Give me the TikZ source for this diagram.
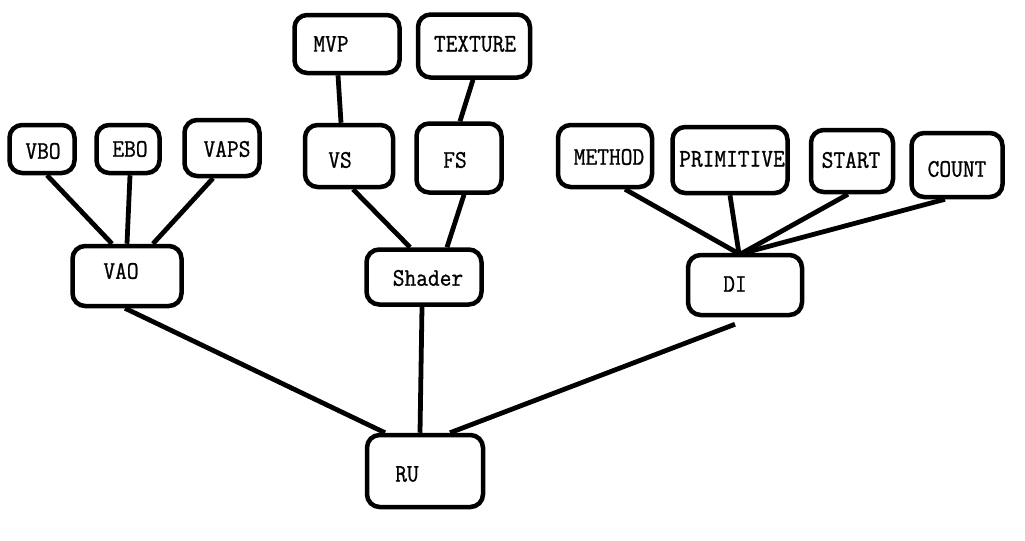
\documentclass[tikz,border=0pt]{standalone}
\usepackage{fontspec}
\setmonofont[FakeBold=0.9,FakeStretch=0.9]{Latin Modern Mono}
\usetikzlibrary{calc}
\tikzset{
  bx/.style 2 args={draw, line width=3.2pt, rounded corners=9pt, fill=white,
    minimum width=#1*0.025cm, minimum height=#2*0.025cm, inner sep=0pt},
  lbl/.style={font=\ttfamily\fontsize{18}{18}\selectfont, inner sep=0pt},
  ln/.style={line width=3.4pt}
}
\begin{document}
\begin{tikzpicture}[x=0.025cm, y=-0.025cm]
\useasboundingbox[fill=white] (0,0) rectangle (1025,540);
% boxes
\node[bx={65}{48}] (vbo) at (42,149) {};
\node[bx={63}{48}] (ebo) at (128,149) {};
\node[bx={75}{56}] (vaps) at (222,148) {};
\node[bx={109}{60}] (vao) at (127,276) {};
\node[bx={105}{58}] (mvp) at (347,44) {};
\node[bx={112}{63}] (tex) at (474,46) {};
\node[bx={88}{62}] (vs) at (349,156) {};
\node[bx={85}{69}] (fs) at (459,158) {};
\node[bx={115}{55}] (sh) at (424,277) {};
\node[bx={94}{62}] (meth) at (605,156) {};
\node[bx={115}{66}] (prim) at (730,160) {};
\node[bx={82}{62}] (start) at (852,161) {};
\node[bx={91}{64}] (count) at (957,165) {};
\node[bx={114}{60}] (di) at (745,285) {};
\node[bx={116}{72}] (ru) at (425,471) {};
% connectors
\draw[ln] ($(vbo.south)+(5,0)$) -- ($(vao.north)+(-15,0)$);
\draw[ln] ($(ebo.south)+(2,0)$) -- ($(vao.north)+(0,0)$);
\draw[ln] ($(vaps.south)+(-9,0)$) -- ($(vao.north)+(26,0)$);
\draw[ln] ($(vao.south)+(-2,0)$) -- ($(ru.north)+(-40,0)$);
\draw[ln] ($(mvp.south)+(-9,0)$) -- ($(vs.north)+(-8,0)$);
\draw[ln] ($(tex.south)+(-1,0)$) -- ($(fs.north)+(1,0)$);
\draw[ln] ($(vs.south)+(4,0)$) -- ($(sh.north)+(-14,0)$);
\draw[ln] ($(fs.south)+(5,0)$) -- ($(sh.north)+(23,0)$);
\draw[ln] ($(sh.south)+(-2,0)$) -- ($(ru.north)+(-5,0)$);
\draw[ln] ($(meth.south)+(20,0)$) -- ($(di.north)+(-6,1)$);
\draw[ln] ($(prim.south)+(0,0)$) -- ($(di.north)+(-6,1)$);
\draw[ln] ($(start.south)+(-4,0)$) -- ($(di.north)+(-4,1)$);
\draw[ln] ($(count.south)+(-12,0)$) -- ($(di.north)+(-4,1)$);
\draw[ln] ($(di.south)+(-10,7)$) -- ($(ru.north)+(25,0)$);
% labels
\node[lbl] (tvbo) at (43,151) {VBO};
\node[lbl] (tebo) at (130,149) {EBO};
\node[lbl] (tvaps) at (227,149) {VAPS};
\node[lbl] (tvao) at (121,271) {VAO};
\node[lbl] (tmvp) at (331,44) {MVP};
\node[lbl] (ttex) at (475,44) {TEXTURE};
\node[lbl] (tvs) at (340,160) {VS};
\node[lbl] (tfs) at (455,160) {FS};
\node[lbl] (tsh) at (428,278) {Shader};
\node[lbl] (tmeth) at (609,157) {METHOD};
\node[lbl] (tprim) at (732,159) {PRIMITIVE};
\node[lbl] (tstart) at (851,160) {START};
\node[lbl] (tcount) at (957,169) {COUNT};
\node[lbl] (tdi) at (735,284) {DI};
\node[lbl] (tru) at (407,474) {RU};
\end{tikzpicture}
\end{document}
